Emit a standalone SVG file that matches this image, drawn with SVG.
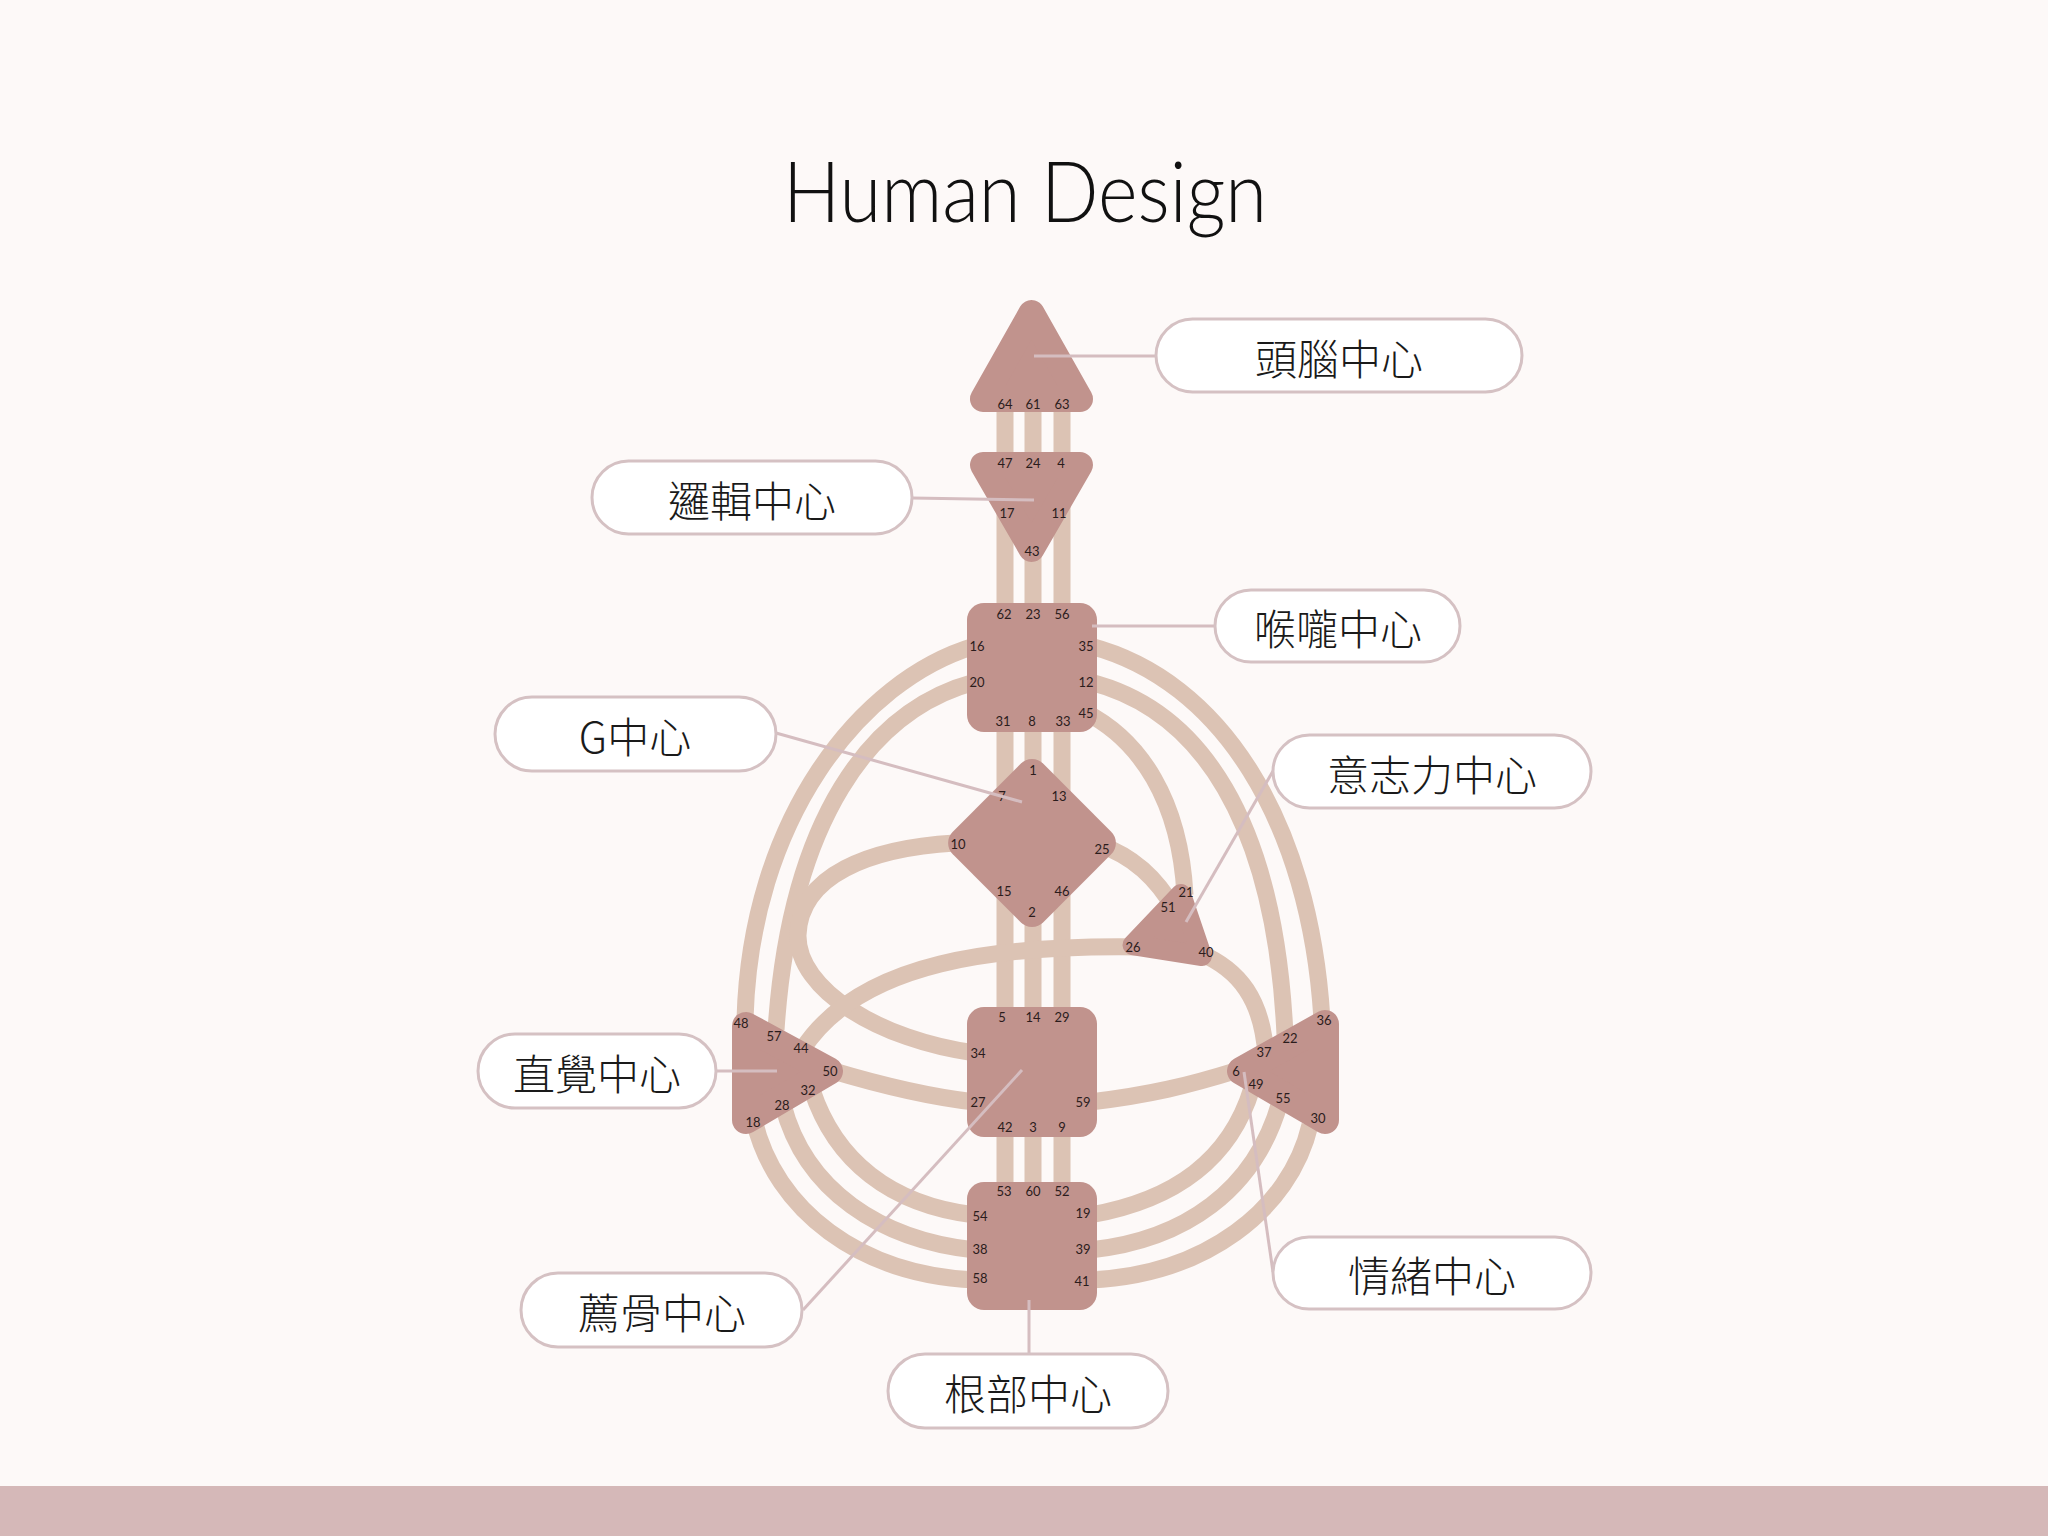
<svg xmlns="http://www.w3.org/2000/svg" width="2048" height="1536" viewBox="0 0 2048 1536">
<style>
.ch{fill:none;stroke:#dcc3b4;stroke-width:17;stroke-linecap:butt}
.nd{fill:#c1938d}
.ndr{fill:#c1938d;stroke:#c1938d;stroke-linejoin:round}
.g{font-family:Lato,"Noto Sans","Liberation Sans",sans-serif;font-size:13px;fill:#2b1c1c;text-anchor:middle}
.ptr{stroke:#d5bdc0;stroke-width:3;fill:none}
.box{fill:#ffffff;stroke:#d5c1c3;stroke-width:3}
.lb{font-family:"Noto Sans CJK TC","Noto Sans CJK SC",sans-serif;font-size:42px;font-weight:300;fill:#1a1a1a;text-anchor:middle;dominant-baseline:central}
</style>
<rect x="0" y="0" width="2048" height="1536" fill="#fdf9f8"/>
<rect x="0" y="1486" width="2048" height="50" fill="#d5b8b8"/>
<text x="1025" y="222" font-family="Lato,'Liberation Sans',sans-serif" font-size="84" font-weight="300" fill="#111" text-anchor="middle" textLength="484" lengthAdjust="spacingAndGlyphs">Human Design</text>

<g id="connectors">
<line class="ch" x1="1005" y1="400" x2="1005" y2="1195"/>
<line class="ch" x1="1033" y1="400" x2="1033" y2="1195"/>
<line class="ch" x1="1062" y1="400" x2="1062" y2="1195"/>
<path class="ch" d="M975,646 C860,680 750,820 745,1020"/>
<path class="ch" d="M975,682 C870,710 790,820 776,1030"/>
<path class="ch" d="M955,843 C870,848 800,875 798,935 C797,990 880,1040 975,1053"/>
<path class="ch" d="M1140,947 C1000,945 860,960 802,1050"/>
<path class="ch" d="M1090,646 C1220,680 1310,820 1322,1020"/>
<path class="ch" d="M1090,682 C1200,710 1275,820 1285,1035"/>
<path class="ch" d="M1085,712 C1140,740 1180,800 1185,895"/>
<path class="ch" d="M1100,845 C1130,855 1155,875 1175,910"/>
<path class="ch" d="M1200,953 C1240,970 1262,1000 1266,1055"/>
<path class="ch" d="M1090,1102 C1150,1095 1190,1085 1235,1071"/>
<path class="ch" d="M830,1070 C880,1085 930,1097 975,1102"/>
<path class="ch" d="M975,1215 C890,1205 835,1160 812,1090"/>
<path class="ch" d="M975,1250 C880,1240 805,1190 783,1105"/>
<path class="ch" d="M975,1280 C860,1275 775,1210 754,1120"/>
<path class="ch" d="M1090,1215 C1175,1200 1230,1160 1252,1088"/>
<path class="ch" d="M1090,1250 C1185,1240 1255,1190 1280,1102"/>
<path class="ch" d="M1090,1280 C1205,1275 1290,1210 1310,1125"/>
</g>

<g id="head">
<polygon class="ndr" stroke-width="26" points="1031.5,313 983,399 1080,399"/>
<text class="g" x="1005" y="408.6">64</text><text class="g" x="1033" y="408.6">61</text><text class="g" x="1062" y="408.6">63</text>
</g>
<g id="ajna">
<polygon class="ndr" stroke-width="26" points="983,465 1080,465 1031.5,549"/>
<text class="g" x="1005" y="467.6">47</text><text class="g" x="1033" y="467.6">24</text><text class="g" x="1061" y="467.6">4</text>
<text class="g" x="1007" y="517.6">17</text><text class="g" x="1059" y="517.6">11</text><text class="g" x="1032" y="555.6">43</text>
</g>
<g id="throat">
<rect class="nd" x="967" y="603" width="130" height="129" rx="17"/>
<text class="g" x="1004" y="618.6">62</text><text class="g" x="1033" y="618.6">23</text><text class="g" x="1062" y="618.6">56</text>
<text class="g" x="977" y="650.6">16</text><text class="g" x="977" y="686.6">20</text>
<text class="g" x="1086" y="650.6">35</text><text class="g" x="1086" y="686.6">12</text><text class="g" x="1086" y="717.6">45</text>
<text class="g" x="1003" y="725.6">31</text><text class="g" x="1032" y="725.6">8</text><text class="g" x="1063" y="725.6">33</text>
</g>
<g id="g-center">
<rect class="nd" x="968" y="779" width="128" height="128" rx="16" transform="rotate(45 1032 843)"/>
<text class="g" x="1033" y="774.6">1</text><text class="g" x="1002" y="800.6">7</text><text class="g" x="1059" y="800.6">13</text>
<text class="g" x="958" y="848.6">10</text><text class="g" x="1102" y="853.6">25</text>
<text class="g" x="1004" y="895.6">15</text><text class="g" x="1062" y="895.6">46</text><text class="g" x="1032" y="916.6">2</text>
</g>
<g id="heart">
<polygon class="ndr" stroke-width="20" points="1181,894 1132.5,945 1202,956"/>
<text class="g" x="1186" y="896.6">21</text><text class="g" x="1168" y="911.6">51</text>
<text class="g" x="1133" y="951.6">26</text><text class="g" x="1206" y="956.6">40</text>
</g>
<g id="spleen">
<polygon class="ndr" stroke-width="28" points="746,1026 746,1120 829,1071"/>
<text class="g" x="741" y="1027.6">48</text><text class="g" x="774" y="1040.6">57</text><text class="g" x="801" y="1052.6">44</text>
<text class="g" x="830" y="1075.6">50</text><text class="g" x="808" y="1094.6">32</text><text class="g" x="782" y="1109.6">28</text>
<text class="g" x="753" y="1126.6">18</text>
</g>
<g id="solar-plexus">
<polygon class="ndr" stroke-width="28" points="1325,1024 1325,1120 1241,1071"/>
<text class="g" x="1324" y="1024.6">36</text><text class="g" x="1290" y="1042.6">22</text><text class="g" x="1264" y="1056.6">37</text>
<text class="g" x="1236" y="1075.6">6</text><text class="g" x="1256" y="1088.6">49</text><text class="g" x="1283" y="1102.6">55</text>
<text class="g" x="1318" y="1122.6">30</text>
</g>
<g id="sacral">
<rect class="nd" x="967" y="1007" width="130" height="130" rx="17"/>
<text class="g" x="1002" y="1021.6">5</text><text class="g" x="1033" y="1021.6">14</text><text class="g" x="1062" y="1021.6">29</text>
<text class="g" x="978" y="1057.6">34</text><text class="g" x="978" y="1106.6">27</text><text class="g" x="1083" y="1106.6">59</text>
<text class="g" x="1005" y="1131.6">42</text><text class="g" x="1033" y="1131.6">3</text><text class="g" x="1062" y="1131.6">9</text>
</g>
<g id="root">
<rect class="nd" x="967" y="1182" width="130" height="128" rx="17"/>
<text class="g" x="1004" y="1195.6">53</text><text class="g" x="1033" y="1195.6">60</text><text class="g" x="1062" y="1195.6">52</text>
<text class="g" x="980" y="1220.6">54</text><text class="g" x="980" y="1253.6">38</text><text class="g" x="980" y="1282.6">58</text>
<text class="g" x="1083" y="1217.6">19</text><text class="g" x="1083" y="1253.6">39</text><text class="g" x="1082" y="1285.6">41</text>
</g>

<g id="pointers">
<line class="ptr" x1="1034" y1="356" x2="1156" y2="356"/>
<line class="ptr" x1="912" y1="498" x2="1034" y2="500"/>
<line class="ptr" x1="1092" y1="626" x2="1215" y2="626"/>
<line class="ptr" x1="776" y1="733" x2="1022" y2="802"/>
<line class="ptr" x1="1273" y1="771" x2="1186" y2="922"/>
<line class="ptr" x1="716" y1="1071" x2="777" y2="1071"/>
<line class="ptr" x1="1244" y1="1072" x2="1273" y2="1272"/>
<line class="ptr" x1="1022" y1="1070" x2="803" y2="1310"/>
<line class="ptr" x1="1029" y1="1300" x2="1029" y2="1354"/>
</g>

<g id="label-head"><rect class="box" x="1156" y="319" width="366" height="73" rx="36.5"/><text class="lb" x="1339" y="356">頭腦中心</text></g>
<g id="label-ajna"><rect class="box" x="592" y="461" width="320" height="73" rx="36.5"/><text class="lb" x="752" y="498">邏輯中心</text></g>
<g id="label-throat"><rect class="box" x="1215" y="590" width="245" height="72" rx="36"/><text class="lb" x="1338" y="626">喉嚨中心</text></g>
<g id="label-g"><rect class="box" x="495" y="697" width="281" height="74" rx="37"/><text class="lb" x="635" y="734">G中心</text></g>
<g id="label-heart"><rect class="box" x="1273" y="735" width="318" height="73" rx="36.5"/><text class="lb" x="1432" y="772">意志力中心</text></g>
<g id="label-spleen"><rect class="box" x="478" y="1034" width="238" height="74" rx="37"/><text class="lb" x="597" y="1071">直覺中心</text></g>
<g id="label-sp"><rect class="box" x="1273" y="1237" width="318" height="72" rx="36"/><text class="lb" x="1432" y="1273">情緒中心</text></g>
<g id="label-sacral"><rect class="box" x="521" y="1273" width="281" height="74" rx="37"/><text class="lb" x="662" y="1310">薦骨中心</text></g>
<g id="label-root"><rect class="box" x="888" y="1354" width="280" height="74" rx="37"/><text class="lb" x="1028" y="1391">根部中心</text></g>
</svg>
